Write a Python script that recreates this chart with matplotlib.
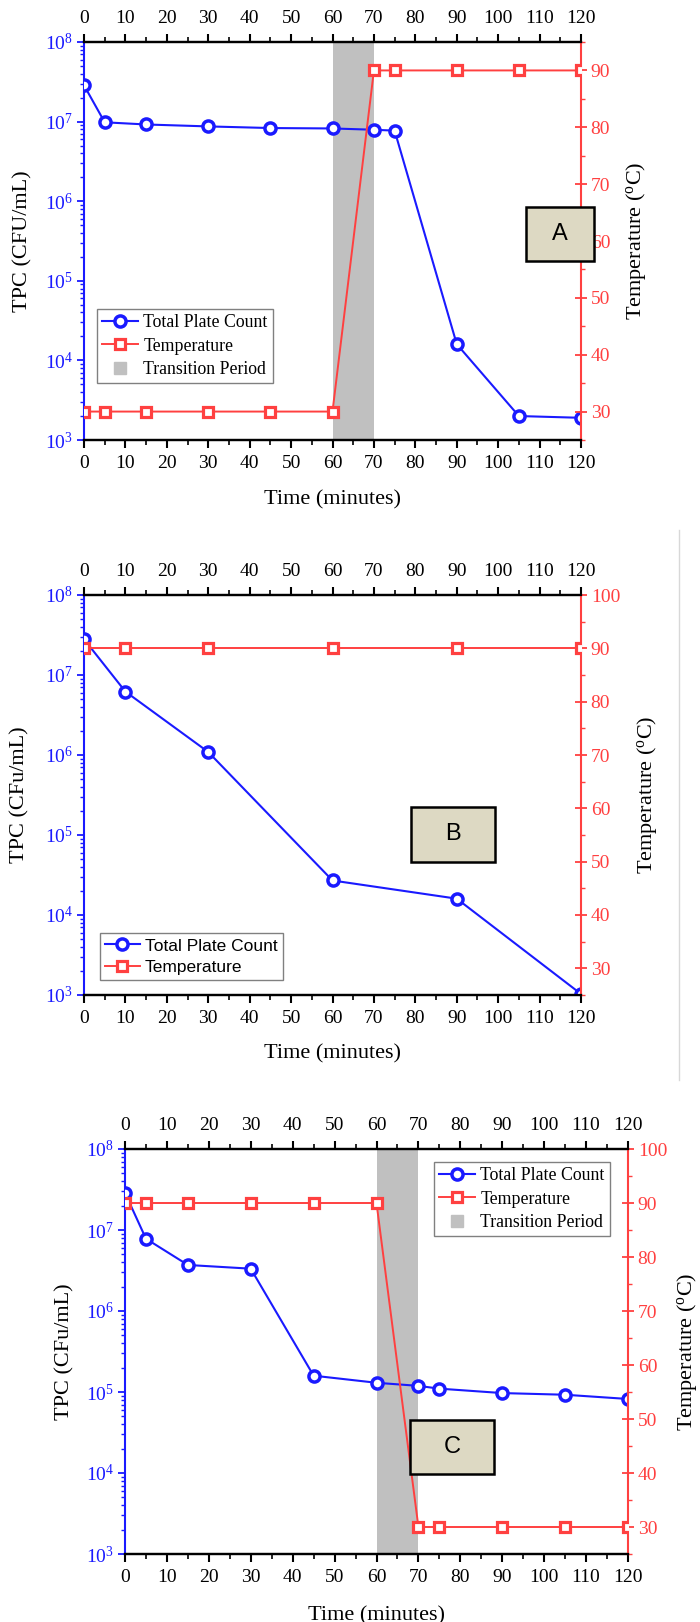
import matplotlib
matplotlib.use("Agg")
import matplotlib.pyplot as plt
from matplotlib.lines import Line2D
from matplotlib.patches import Rectangle
from matplotlib.ticker import LogLocator, MultipleLocator, NullFormatter

plt.rcParams["font.family"] = ["Liberation Serif", "DejaVu Serif"]
plt.rcParams["mathtext.fontset"] = "custom"
plt.rcParams["mathtext.rm"] = "Liberation Serif"
plt.rcParams["mathtext.default"] = "regular"

BLUE = "#1a1aff"
RED = "#ff4040"
SPAN = "#c0c0c0"
BOXFC = "#ddd9c3"

# ---- data ----
time_a = [0, 5, 15, 30, 45, 60, 70, 75, 90, 105, 120]
tpc_a = [2.86e7, 9.8e6, 9.2e6, 8.7e6, 8.3e6, 8.2e6, 7.9e6, 7.7e6, 1.6e4, 2.0e3, 1.9e3]
temp_a = [30, 30, 30, 30, 30, 30, 90, 90, 90, 90, 90]
transition_a = (60, 70)

time_b = [0, 10, 30, 60, 90, 120]
tpc_b = [2.8e7, 6.2e6, 1.09e6, 2.7e4, 1.6e4, 1.03e3]
temp_b = [90, 90, 90, 90, 90, 90]

time_c = [0, 5, 15, 30, 45, 60, 70, 75, 90, 105, 120]
tpc_c = [2.87e7, 7.8e6, 3.7e6, 3.33e6, 1.59e5, 1.3e5, 1.19e5, 1.1e5, 9.7e4, 9.25e4, 8.2e4]
temp_c = [90, 90, 90, 90, 90, 90, 30, 30, 30, 30, 30]
transition_c = (60, 70)

legend_labels = ["Total Plate Count", "Temperature", "Transition Period"]

W, H = 700, 1622
fig = plt.figure(figsize=(W / 100, H / 100), dpi=100)


def rect(x0, y0, x1, y1):
    """pixel box (top-left origin) -> figure fraction rect"""
    return [x0 / W, 1 - y1 / H, (x1 - x0) / W, (y1 - y0) / H]


def panel(box, times, tpc, temp, ylab, tmax, letter, letter_box,
          leg_loc, leg_anchor, leg_font, span=None, ylab_x=-0.1, ylab2_x=1.09,
          xlab_y=-0.125):
    ax = fig.add_axes(rect(*box))
    ax2 = ax.twinx()

    if span is not None:
        ax.axvspan(*span, color=SPAN, lw=0, zorder=0)
    l1, = ax.plot(times, tpc, "-o", color=BLUE, lw=1.5, ms=8, mew=2.5,
                  mfc="white", mec=BLUE, zorder=3)
    l2, = ax2.plot(times, temp, "-s", color=RED, lw=1.4, ms=7, mew=2.3,
                   mfc="white", mec=RED, zorder=3)

    ax.set_yscale("log")
    ax.set_ylim(1e3, 1e8)
    ax.set_xlim(0, 120)
    ax2.set_ylim(25, tmax)

    ax.xaxis.set_major_locator(MultipleLocator(10))
    ax.xaxis.set_minor_locator(MultipleLocator(5))
    ax.yaxis.set_major_locator(LogLocator(base=10, numticks=10))
    ax.yaxis.set_minor_locator(LogLocator(base=10, subs=range(2, 10), numticks=10))
    ax.yaxis.set_minor_formatter(NullFormatter())
    ax2.yaxis.set_major_locator(MultipleLocator(10))
    ax2.yaxis.set_minor_locator(MultipleLocator(5))

    ax.tick_params(axis="x", which="both", direction="out", top=True,
                   labeltop=True, labelsize=14, pad=5, colors="black")
    ax.tick_params(axis="x", which="major", length=6, width=1.5)
    ax.tick_params(axis="x", which="minor", length=3.5, width=1.2)
    ax.tick_params(axis="y", which="both", direction="out", colors=BLUE,
                   labelsize=14, pad=3)
    ax.tick_params(axis="y", which="major", length=5, width=1.3)
    ax.tick_params(axis="y", which="minor", length=3, width=1)
    ax2.tick_params(axis="y", which="both", colors=RED, labelsize=14, pad=3)
    ax2.tick_params(axis="y", which="major", direction="inout", length=8,
                    width=1.3)
    ax2.tick_params(axis="y", which="minor", direction="out", length=3,
                    width=1)

    for a in (ax, ax2):
        for s in ("top", "bottom"):
            a.spines[s].set_linewidth(1.6)
            a.spines[s].set_color("black")
    ax.spines["right"].set_visible(False)
    ax2.spines["left"].set_visible(False)
    ax.spines["left"].set_color(BLUE)
    ax.spines["left"].set_linewidth(1.5)
    ax2.spines["right"].set_color(RED)
    ax2.spines["right"].set_linewidth(1.5)

    ax.set_xlabel("Time (minutes)", fontsize=16)
    ax.xaxis.set_label_coords(0.5, xlab_y)
    ax.set_ylabel(ylab, fontsize=16)
    ax.yaxis.set_label_coords(ylab_x, 0.5)
    ax2.set_ylabel(r"Temperature ($^{o}$C)", fontsize=16)
    ax2.yaxis.set_label_coords(ylab2_x, 0.5)

    handles = [l1, l2]
    if span is not None:
        handles.append(Line2D([], [], ls="none", marker="s", ms=8,
                              color=SPAN, mec=SPAN))
    leg = ax2.legend(handles, legend_labels[:len(handles)], loc=leg_loc,
                     bbox_to_anchor=leg_anchor, borderaxespad=0,
                     prop=leg_font, fancybox=False, framealpha=1,
                     edgecolor="#808080", handlelength=2.0, handletextpad=0.3,
                     labelspacing=0.35, borderpad=0.3)
    leg.get_frame().set_linewidth(1.0)
    leg.set_zorder(6)

    x0, y0, x1, y1 = letter_box
    ax2.add_patch(Rectangle((x0, y0), x1 - x0, y1 - y0, transform=ax2.transAxes,
                            facecolor=BOXFC, edgecolor="black", lw=1.8,
                            clip_on=False, zorder=7))
    ax2.text((x0 + x1) / 2, (y0 + y1) / 2, letter, transform=ax2.transAxes,
             ha="center", va="center", fontsize=17, zorder=8,
             family=["Liberation Sans", "DejaVu Sans"])
    return ax, ax2


serif_leg = {"family": ["Liberation Serif"], "size": 12.8}
sans_leg = {"family": ["Liberation Sans"], "size": 12.5}

panel((84, 42, 581, 440), time_a, tpc_a, temp_a, "TPC (CFU/mL)", 95, "A",
      (0.889, 0.450, 1.026, 0.585), "lower left", (0.026, 0.143), serif_leg,
      span=transition_a, ylab_x=-0.103, ylab2_x=1.087, xlab_y=-0.126)

panel((84, 595, 581, 995), time_b, tpc_b, temp_b, "TPC (CFu/mL)", 100, "B",
      (0.658, 0.333, 0.827, 0.470), "lower left", (0.032, 0.0375), sans_leg,
      ylab_x=-0.109, ylab2_x=1.109, xlab_y=-0.1225)

panel((125, 1149, 628, 1554), time_c, tpc_c, temp_c, "TPC (CFu/mL)", 100, "C",
      (0.567, 0.198, 0.734, 0.331), "upper right", (0.964, 0.968), serif_leg,
      span=transition_c, ylab_x=-0.101, ylab2_x=1.093, xlab_y=-0.128)

# faint page edge line to the right of panel B
fig.add_artist(Line2D([679 / W, 679 / W], [1 - 1080 / H, 1 - 530 / H],
                      transform=fig.transFigure, color="#d8d8d8", lw=1))

fig.savefig("out.png", dpi=100)
